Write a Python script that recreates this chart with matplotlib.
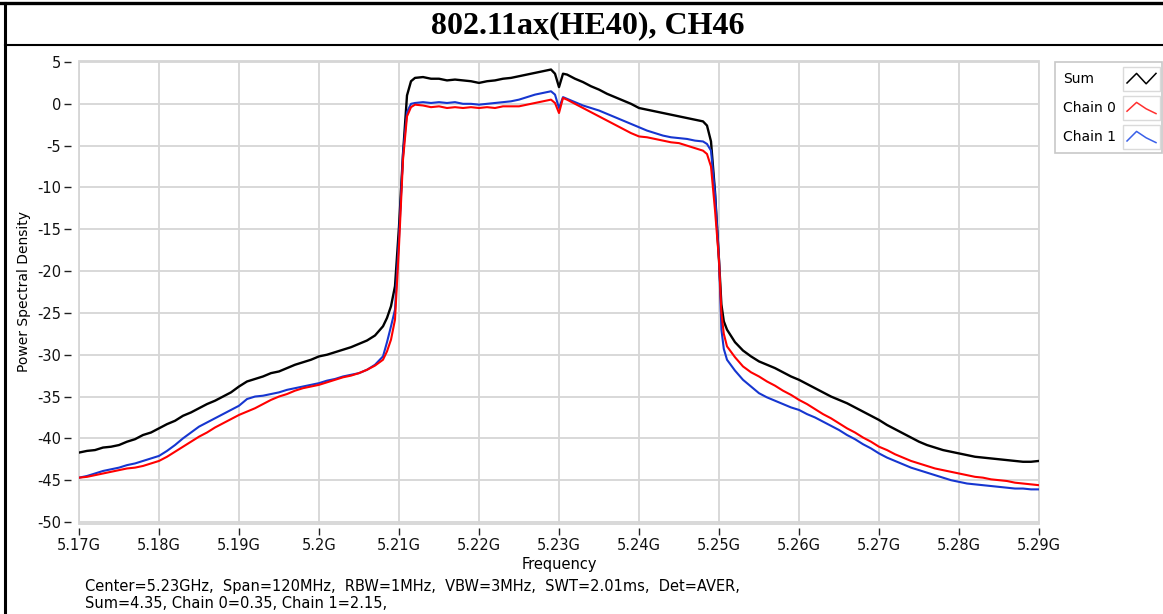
import numpy as np
import matplotlib
matplotlib.use("Agg")
import matplotlib.pyplot as plt
from matplotlib.patches import Rectangle
from matplotlib.lines import Line2D

# sweep points (MHz)
freq_mhz = [
    5170, 5171, 5172, 5173, 5174, 5175, 5176, 5177, 5178, 5179,
    5180, 5181, 5182, 5183, 5184, 5185, 5186, 5187, 5188, 5189,
    5190, 5191, 5192, 5193, 5194, 5195, 5196, 5197, 5198, 5199,
    5200, 5201, 5202, 5203, 5204, 5205, 5206, 5207, 5208,
    5208.5, 5209, 5209.5, 5210, 5210.5, 5211, 5211.5,
    5212, 5213, 5214, 5215, 5216, 5217, 5218, 5219, 5220, 5221,
    5222, 5223, 5224, 5225, 5226, 5227, 5228, 5229,
    5229.5, 5230, 5230.5,
    5231, 5232, 5233, 5234, 5235, 5236, 5237, 5238, 5239, 5240,
    5241, 5242, 5243, 5244, 5245, 5246, 5247, 5248,
    5248.5, 5249, 5249.5, 5250, 5250.3, 5250.6,
    5251, 5252, 5253, 5254, 5255, 5256, 5257, 5258, 5259, 5260,
    5261, 5262, 5263, 5264, 5265, 5266, 5267, 5268, 5269, 5270,
    5271, 5272, 5273, 5274, 5275, 5276, 5277, 5278, 5279, 5280,
    5281, 5282, 5283, 5284, 5285, 5286, 5287, 5288, 5289, 5290,
]

psd_sum = [
    -41.7, -41.5, -41.4, -41.1, -41.0, -40.8, -40.4, -40.1, -39.6, -39.3,
    -38.8, -38.3, -37.9, -37.3, -36.9, -36.4, -35.9, -35.5, -35.0, -34.5,
    -33.8, -33.2, -32.9, -32.6, -32.2, -32.0, -31.6, -31.2, -30.9, -30.6,
    -30.2, -30.0, -29.7, -29.4, -29.1, -28.7, -28.3, -27.7, -26.6,
    -25.6, -24.2, -21.8, -14.7, -6.0, 1.0, 2.7,
    3.1, 3.2, 3.0, 3.0, 2.8, 2.9, 2.8, 2.7, 2.5, 2.7,
    2.8, 3.0, 3.1, 3.3, 3.5, 3.7, 3.9, 4.1,
    3.6, 2.0, 3.6,
    3.5, 3.0, 2.6, 2.1, 1.7, 1.2, 0.8, 0.4, 0.0, -0.5,
    -0.7, -0.9, -1.1, -1.3, -1.5, -1.7, -1.9, -2.1,
    -2.6, -4.5, -10.5, -18.7, -24.0, -26.0,
    -27.0, -28.5, -29.5, -30.2, -30.8, -31.2, -31.6, -32.1, -32.6, -33.0,
    -33.5, -34.0, -34.5, -35.0, -35.4, -35.8, -36.3, -36.8, -37.3, -37.8,
    -38.4, -38.9, -39.4, -39.9, -40.4, -40.8, -41.1, -41.4, -41.6, -41.8,
    -42.0, -42.2, -42.3, -42.4, -42.5, -42.6, -42.7, -42.8, -42.8, -42.7,
]

psd_chain0 = [
    -44.7, -44.6, -44.4, -44.2, -44.0, -43.8, -43.6, -43.5, -43.3, -43.0,
    -42.7, -42.2, -41.6, -41.0, -40.4, -39.8, -39.3, -38.7, -38.2, -37.7,
    -37.2, -36.8, -36.4, -35.9, -35.4, -35.0, -34.7, -34.3, -34.0, -33.8,
    -33.6, -33.3, -33.0, -32.7, -32.5, -32.2, -31.8, -31.3, -30.6,
    -29.6, -28.2, -25.8, -17.0, -6.7, -1.5, -0.4,
    -0.1, -0.2, -0.4, -0.3, -0.5, -0.4, -0.5, -0.4, -0.5, -0.4,
    -0.5, -0.3, -0.3, -0.3, -0.1, 0.1, 0.3, 0.5,
    0.1, -1.1, 0.7,
    0.5, 0.0, -0.5, -1.0, -1.5, -2.0, -2.5, -3.0, -3.5, -3.9,
    -4.0, -4.2, -4.4, -4.6, -4.7, -5.0, -5.3, -5.6,
    -6.0, -7.5, -12.7, -18.7, -25.0, -27.5,
    -29.0, -30.3, -31.4, -32.1, -32.6, -33.2, -33.7, -34.3, -34.8, -35.4,
    -35.9, -36.5, -37.1, -37.6, -38.2, -38.8, -39.3, -39.9, -40.4, -41.0,
    -41.4, -41.9, -42.3, -42.7, -43.0, -43.3, -43.6, -43.8, -44.0, -44.2,
    -44.4, -44.6, -44.7, -44.9, -45.0, -45.1, -45.3, -45.4, -45.5, -45.6,
]

psd_chain1 = [
    -44.7, -44.5, -44.2, -43.9, -43.7, -43.5, -43.2, -43.0, -42.7, -42.4,
    -42.1, -41.5, -40.8, -40.0, -39.3, -38.6, -38.1, -37.6, -37.1, -36.6,
    -36.1, -35.3, -35.0, -34.9, -34.7, -34.5, -34.2, -34.0, -33.8, -33.6,
    -33.4, -33.1, -32.9, -32.6, -32.4, -32.2, -31.8, -31.2, -30.2,
    -28.5, -26.6, -24.6, -16.0, -6.0, -1.0, 0.0,
    0.1, 0.2, 0.1, 0.2, 0.1, 0.2, 0.0, 0.0, -0.1, 0.0,
    0.1, 0.2, 0.3, 0.5, 0.8, 1.1, 1.3, 1.5,
    1.1, -0.5, 0.8,
    0.6, 0.2, -0.2, -0.5, -0.8, -1.2, -1.6, -2.0, -2.4, -2.8,
    -3.2, -3.5, -3.8, -4.0, -4.1, -4.2, -4.4, -4.5,
    -4.8, -5.6, -10.7, -18.5, -27.0, -29.3,
    -30.6, -31.9, -33.0, -33.8, -34.6, -35.1, -35.5, -35.9, -36.3, -36.6,
    -37.1, -37.5, -38.0, -38.5, -39.0, -39.6, -40.1, -40.7, -41.2, -41.8,
    -42.3, -42.7, -43.1, -43.5, -43.8, -44.1, -44.4, -44.7, -45.0, -45.2,
    -45.4, -45.5, -45.6, -45.7, -45.8, -45.9, -46.0, -46.0, -46.1, -46.1,
]

series_names = ["Sum", "Chain 0", "Chain 1"]
x_ticks = [5.17, 5.18, 5.19, 5.20, 5.21, 5.22, 5.23, 5.24, 5.25, 5.26, 5.27, 5.28, 5.29]
x_tick_labels = ["5.17G", "5.18G", "5.19G", "5.2G", "5.21G", "5.22G", "5.23G",
                 "5.24G", "5.25G", "5.26G", "5.27G", "5.28G", "5.29G"]
y_ticks = [5, 0, -5, -10, -15, -20, -25, -30, -35, -40, -45, -50]

title = "802.11ax(HE40), CH46"
info_line1 = "Center=5.23GHz,  Span=120MHz,  RBW=1MHz,  VBW=3MHz,  SWT=2.01ms,  Det=AVER,"
info_line2 = "Sum=4.35, Chain 0=0.35, Chain 1=2.15,"

W, H = 1163, 614
fig = plt.figure(figsize=(W / 100, H / 100), dpi=100)
fig.patch.set_facecolor("white")

def px(x, y):
    # pixel (from top-left) -> figure fraction
    return x / W, 1 - y / H

# table-like frame around the chart
fig.add_artist(Line2D([0, 1], [1 - 3 / H, 1 - 3 / H], color="black", lw=2.4))
fig.add_artist(Line2D([5 / W, 1], [1 - 45 / H, 1 - 45 / H], color="black", lw=1.5))
fig.add_artist(Line2D([5 / W, 5 / W], [0, 1 - 3 / H], color="black", lw=2.2))
fig.text(*px(588, 26), title, ha="center", va="center", fontsize=23,
         fontweight="bold", family="Liberation Serif")

ax_l, ax_r, ax_t, ax_b = 79, 1039, 61, 524
ax = fig.add_axes([ax_l / W, 1 - ax_b / H, (ax_r - ax_l) / W, (ax_b - ax_t) / H])

f_ghz = np.array(freq_mhz) / 1000.0
ax.plot(f_ghz, psd_sum, color="black", lw=1.7, zorder=3)
ax.plot(f_ghz, psd_chain1, color="#1636d0", lw=1.5, zorder=4)
ax.plot(f_ghz, psd_chain0, color="#ff0000", lw=1.5, zorder=5)

ax.set_xlim(5.17, 5.29)
ax.set_ylim(-50.24, 5.12)
ax.set_xticks(x_ticks)
ax.set_xticklabels(x_tick_labels)
ax.set_yticks(y_ticks)
ax.set_yticklabels([str(v) for v in y_ticks])
ax.grid(True, color="#d6d6d6", lw=1.3)
ax.set_axisbelow(True)

for s in ax.spines.values():
    s.set_visible(False)
ax.spines["left"].set_position(("outward", 6))
ax.spines["bottom"].set_position(("outward", 3))
ax.add_patch(Rectangle((0, 0), 1, 1, transform=ax.transAxes, fill=False,
                       ec="#d6d6d6", lw=1.3, clip_on=False, zorder=1))
ax.tick_params(axis="y", direction="out", length=5, width=1, color="#222222",
               pad=2, labelsize=10.5, labelcolor="#111111")
ax.tick_params(axis="x", direction="out", length=5, width=1, color="#222222",
               pad=2, labelsize=10.5, labelcolor="#111111")

fig.text(*px(559, 565), "Frequency", ha="center", va="center", fontsize=10.5)
fig.text(*px(24, 291), "Power Spectral Density", ha="center", va="center",
         rotation=90, fontsize=10)
fig.text(*px(85, 586), info_line1, ha="left", va="center", fontsize=10.5)
fig.text(*px(85, 603), info_line2, ha="left", va="center", fontsize=10.5)

# legend drawn as in the instrument panel
leg_x0, leg_y0, leg_x1, leg_y1 = 1055, 62, 1162, 153
fig.add_artist(Rectangle(px(leg_x0, leg_y1), (leg_x1 - leg_x0) / W,
                         (leg_y1 - leg_y0) / H, transform=fig.transFigure,
                         fill=True, fc="white", ec="#c8c8c8", lw=1.2))
swatch_colors = ["black", "#ff3030", "#3a60e8"]
zig_x = [0.0, 0.33, 0.66, 1.0]
zig_y = [[0.25, 0.85, 0.2, 0.85], [0.3, 0.85, 0.45, 0.15], [0.25, 0.85, 0.45, 0.15]]
for i, (name, col) in enumerate(zip(series_names, swatch_colors)):
    cy = 79 + i * 29
    fig.text(*px(1063, cy), name, ha="left", va="center", fontsize=10)
    sx0, sx1, sy0, sy1 = 1123, 1160, cy - 12, cy + 12
    fig.add_artist(Rectangle(px(sx0, sy1), (sx1 - sx0) / W, (sy1 - sy0) / H,
                             transform=fig.transFigure, fill=False,
                             ec="#dadada", lw=1.0))
    xs = [(sx0 + 4 + z * (sx1 - sx0 - 8)) / W for z in zig_x]
    ys = [1 - (sy1 - 4 - z * (sy1 - sy0 - 8)) / H for z in zig_y[i]]
    fig.add_artist(Line2D(xs, ys, color=col, lw=1.1))

fig.savefig("out.png", dpi=100)
